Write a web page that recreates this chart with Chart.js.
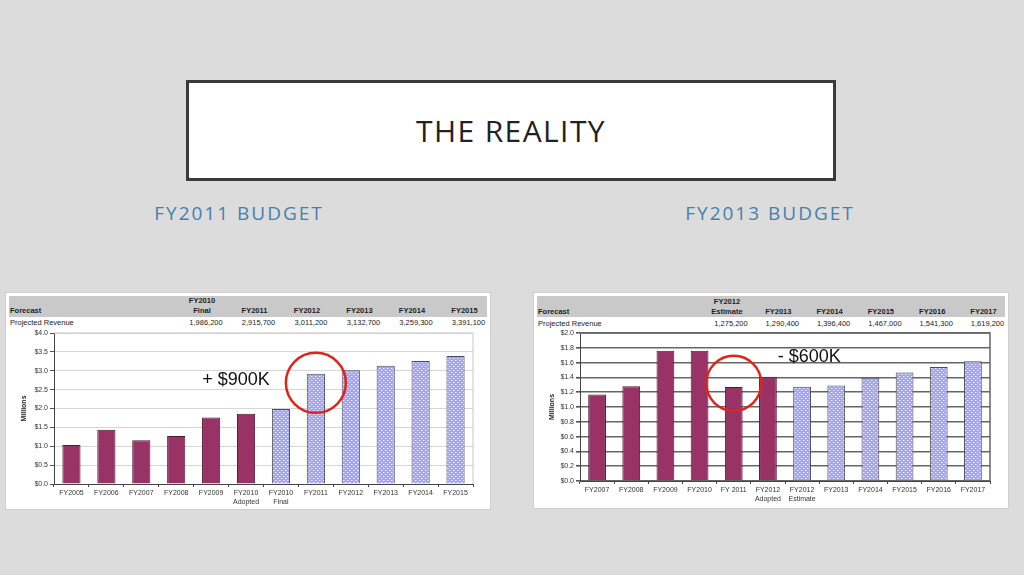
<!DOCTYPE html>
<html>
<head>
<meta charset="utf-8">
<script src="https://cdn.jsdelivr.net/npm/chart.js@4.4.0/dist/chart.umd.min.js"></script>
<style>
body{margin:0;width:1024px;height:575px;background:#dcdcdc;position:relative;overflow:hidden;font-family:"Liberation Sans",Arial,sans-serif}
#titlebox{position:absolute;left:186px;top:80px;width:644px;height:95px;border:3px solid #3a3a3a;background:#fff}
#titlebox div{position:absolute;left:0;right:0;top:29px;text-align:center;font-family:"Open Sans",sans-serif;font-size:30px;letter-spacing:1.4px;color:#222;line-height:38px}
.sub{position:absolute;top:199px;width:300px;text-align:center;font-family:"Open Sans",sans-serif;font-size:19px;letter-spacing:2px;color:#4680ad;line-height:28px}
.panel{position:absolute;background:#fff;border:1px solid #cfcfcf}
.band{position:absolute;left:3px;right:3px;top:3px;height:21px;background:#c9c9c9}
.t{position:absolute;font-size:7.5px;color:#222;white-space:nowrap;line-height:9px}
.b{font-weight:bold}
canvas{position:absolute}
</style>
</head>
<body>
<div id="titlebox"><div>THE REALITY</div></div>
<div class="sub" style="left:89px">FY2011 BUDGET</div>
<div class="sub" style="left:620px">FY2013 BUDGET</div>

<div class="panel" id="lp" style="left:5px;top:292px;width:484px;height:216px"><div class="band"></div></div>
<div class="panel" id="rp" style="left:533px;top:292px;width:474px;height:215px"><div class="band"></div></div>

<canvas id="left" width="486" height="184" style="left:5px;top:326px"></canvas>
<canvas id="right" width="476" height="183" style="left:533px;top:326px"></canvas>

<script>
// FY2011 budget chart
var leftCats = ['FY2005','FY2006','FY2007','FY2008','FY2009',['FY2010','Adopted'],['FY2010','Final'],'FY2011','FY2012','FY2013','FY2014','FY2015'];
var leftActual = [1.03,1.44,1.16,1.27,1.76,1.86,null,null,null,null,null,null];
var leftForecast = [null,null,null,null,null,null,1.99,2.92,3.01,3.13,3.26,3.39];
var leftHead = [['FY2010','Final'],['','FY2011'],['','FY2012'],['','FY2013'],['','FY2014'],['','FY2015']];
var leftRevenue = ['1,986,200','2,915,700','3,011,200','3,132,700','3,259,300','3,391,100'];

// FY2013 budget chart
var rightCats = ['FY2007','FY2008','FY2009','FY2010','FY 2011',['FY2012','Adopted'],['FY2012','Estimate'],'FY2013','FY2014','FY2015','FY2016','FY2017'];
var rightActual = [1.17,1.28,1.76,1.76,1.27,1.41,null,null,null,null,null,null];
var rightForecast = [null,null,null,null,null,null,1.275,1.29,1.396,1.467,1.541,1.619];
var rightHead = [['FY2012','Estimate'],['','FY2013'],['','FY2014'],['','FY2015'],['','FY2016'],['','FY2017']];
var rightRevenue = ['1,275,200','1,290,400','1,396,400','1,467,000','1,541,300','1,619,200'];

// header tables above the charts
function header(panelId, heads, vals, firstX, step, top) {
  var p = document.getElementById(panelId);
  function add(txt, x, y, bold, align) {
    var d = document.createElement('div');
    d.className = 't' + (bold ? ' b' : '');
    d.textContent = txt;
    d.style.top = y + 'px';
    if (align == 'left') d.style.left = x + 'px';
    else { d.style.left = (x - 30) + 'px'; d.style.width = '60px'; d.style.textAlign = 'center'; }
    p.appendChild(d);
  }
  add('Forecast', 4, top + 9, true, 'left');
  add('Projected Revenue', 4, top + 21, false, 'left');
  heads.forEach(function(h, i) {
    add(h[0], firstX + i * step, top - 1, true);
    add(h[1], firstX + i * step, top + 9, true);
    add(vals[i], firstX + i * step + 4, top + 21, false);
  });
}
header('lp', leftHead, leftRevenue, 196, 52.5, 4);
header('rp', rightHead, rightRevenue, 193, 51.3, 5);

// dotted fill of forecast bars
function dots() {
  var c = document.createElement('canvas');
  c.width = 4; c.height = 4;
  var g = c.getContext('2d');
  g.fillStyle = '#a4a4ec';
  g.fillRect(0, 0, 4, 4);
  g.fillStyle = '#f4f4ff';
  g.fillRect(0, 0, 1, 1);
  g.fillRect(2, 2, 1, 1);
  g.fillStyle = '#c8c8f6';
  g.fillRect(1, 0, 1, 1);
  g.fillRect(3, 2, 1, 1);
  return g.createPattern(c, 'repeat');
}

var frame = {
  id: 'frame',
  beforeDatasetsDraw: function(chart, args, o) {
    var a = chart.chartArea, ctx = chart.ctx;
    ctx.save();
    ctx.strokeStyle = o.color;
    ctx.lineWidth = o.width;
    ctx.beginPath();
    ctx.moveTo(a.left, a.top); ctx.lineTo(a.right, a.top); ctx.lineTo(a.right, a.bottom);
    ctx.stroke();
    ctx.restore();
  }
};

var markNote = {
  id: 'markNote',
  afterDatasetsDraw: function(chart, args, o) {
    var ctx = chart.ctx, x = chart.scales.x, y = chart.scales.y;
    var cx = x.getPixelForValue(o.cat), cy = y.getPixelForValue(o.at);
    ctx.save();
    ctx.strokeStyle = '#e2231a';
    ctx.lineWidth = 2.5;
    ctx.beginPath();
    ctx.arc(cx, cy, o.r, 0, Math.PI * 2);
    ctx.stroke();
    ctx.fillStyle = '#111';
    ctx.font = '18px "Liberation Sans", Arial';
    ctx.textBaseline = 'middle';
    ctx.textAlign = o.align;
    ctx.fillText(o.text, cx + o.dx, y.getPixelForValue(o.textAt));
    ctx.restore();
  }
};

function makeChart(id, cats, actual, forecast, max, step, dark, yWidth, xHeight, padRight, note) {
  return new Chart(id, {
    type: 'bar',
    data: {
      labels: cats,
      datasets: [
        { data: actual, backgroundColor: '#993366', borderColor: '#4a1a30', borderWidth: 1, barPercentage: 0.52, categoryPercentage: 1, grouped: false },
        { data: forecast, backgroundColor: dots(), borderColor: '#4a4a5a', borderWidth: 1, barPercentage: 0.52, categoryPercentage: 1, grouped: false }
      ]
    },
    options: {
      responsive: false,
      animation: false,
      layout: { padding: { top: 7, right: padRight, left: 0, bottom: 0 } },
      plugins: {
        legend: { display: false },
        tooltip: { enabled: false },
        frame: { color: dark ? '#666' : '#c8c8c8', width: dark ? 1.5 : 1 },
        markNote: note
      },
      scales: {
        x: {
          grid: { drawOnChartArea: false, tickLength: 3, color: '#444' },
          border: { color: '#444', width: 1 },
          ticks: { color: '#333', font: { size: 7, family: '"Liberation Sans", Arial', lineHeight: 1.2 }, padding: 2, maxRotation: 0, autoSkip: false },
          afterFit: function(s) { s.height = xHeight; }
        },
        y: {
          min: 0, max: max,
          grid: { color: dark ? '#666' : '#d6d6d6', lineWidth: dark ? 1.6 : 1, tickLength: 4, tickColor: '#555' },
          border: { color: '#444', width: 1 },
          ticks: { stepSize: step, color: '#333', padding: 2, font: { size: 7, family: '"Liberation Sans", Arial' },
            callback: function(v) { return '$' + v.toFixed(1); } },
          title: { display: true, text: 'Millions', color: '#222', font: { size: 7, weight: 'bold', family: '"Liberation Sans", Arial' }, padding: { top: 15, bottom: 0 } },
          afterFit: function(s) { s.width = yWidth; }
        }
      }
    },
    plugins: [frame, markNote]
  });
}

makeChart('left', leftCats, leftActual, leftForecast, 4, 0.5, false, 49, 26, 18,
  { cat: 7, at: 2.68, r: 30, text: '+ $900K', dx: -46, align: 'right', textAt: 2.75 });
makeChart('right', rightCats, rightActual, rightForecast, 2, 0.2, true, 47, 28, 19,
  { cat: 4, at: 1.32, r: 27.5, text: '- $600K', dx: 44, align: 'left', textAt: 1.68 });
</script>
</body>
</html>
